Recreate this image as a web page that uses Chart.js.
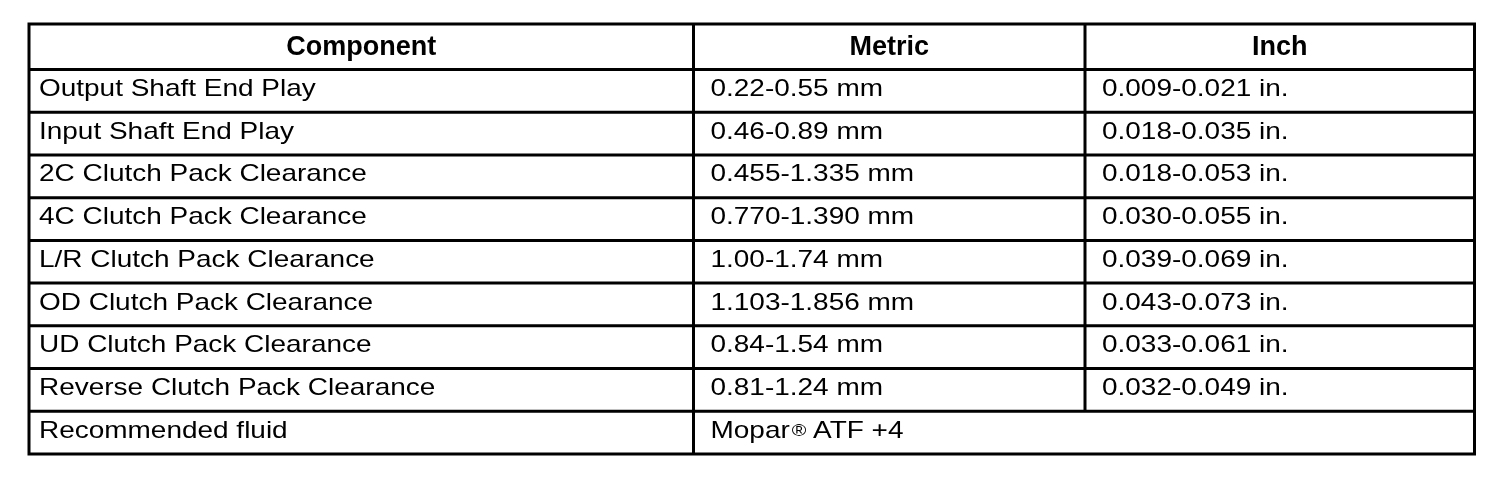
<!DOCTYPE html>
<html>
<head>
<meta charset="utf-8">
<script src="https://cdn.jsdelivr.net/npm/chart.js@4.4.0/dist/chart.umd.min.js"></script>
<style>
  html, body { margin: 0; padding: 0; background: #fff; }
  #wrap { width: 1504px; height: 480px; position: relative; }
</style>
</head>
<body>
<div id="wrap"><canvas id="specTable"></canvas></div>
<script>
var headers = ["Component", "Metric", "Inch"];
var components = [
  "Output Shaft End Play",
  "Input Shaft End Play",
  "2C Clutch Pack Clearance",
  "4C Clutch Pack Clearance",
  "L/R Clutch Pack Clearance",
  "OD Clutch Pack Clearance",
  "UD Clutch Pack Clearance",
  "Reverse Clutch Pack Clearance",
  "Recommended fluid"
];
var metricValues = [
  "0.22-0.55 mm",
  "0.46-0.89 mm",
  "0.455-1.335 mm",
  "0.770-1.390 mm",
  "1.00-1.74 mm",
  "1.103-1.856 mm",
  "0.84-1.54 mm",
  "0.81-1.24 mm",
  "Mopar® ATF +4"
];
// null = the metric cell spans the inch column too
var inchValues = [
  "0.009-0.021 in.",
  "0.018-0.035 in.",
  "0.018-0.053 in.",
  "0.030-0.055 in.",
  "0.039-0.069 in.",
  "0.043-0.073 in.",
  "0.033-0.061 in.",
  "0.032-0.049 in.",
  null
];

// layout
var colEdges = [0, 664.5, 1056, 1445.5];
var headerRows = 1.065;
var rowCount = components.length;
var fontFamily = '"Liberation Sans", Arial, Helvetica, sans-serif';
var stretch = 1.165;
var padLeft = [10, 17, 17];

function rowStart(i) { return i < 0 ? 0 : headerRows + i; }

function drawStretched(ctx, text, px, py, font) {
  ctx.save();
  ctx.font = font;
  ctx.translate(px, py);
  ctx.scale(stretch, 1);
  ctx.fillText(text, 0, 0);
  var w = ctx.measureText(text).width * stretch;
  ctx.restore();
  return w;
}

function drawCell(ctx, text, px, py) {
  var body = '24px ' + fontFamily;
  var parts = text.split('®');
  var cx = px;
  for (var i = 0; i < parts.length; i++) {
    if (i > 0) cx += drawStretched(ctx, '®', cx + 2, py - 2, '17px ' + fontFamily) + 1;
    cx += drawStretched(ctx, parts[i], cx, py, body);
  }
}

var tablePlugin = {
  id: 'specTable',
  afterDraw: function (chart) {
    var ctx = chart.ctx, xs = chart.scales.x, ys = chart.scales.y;
    var left = xs.getPixelForValue(colEdges[0]);
    var right = xs.getPixelForValue(colEdges[3]);
    var top = ys.getPixelForValue(0);
    var bottom = ys.getPixelForValue(rowStart(rowCount));

    ctx.save();
    ctx.strokeStyle = '#000';
    ctx.lineWidth = 3;
    ctx.lineCap = 'square';
    ctx.beginPath();
    // row lines
    for (var r = 0; r <= rowCount; r++) {
      var py = ys.getPixelForValue(r === 0 ? 0 : rowStart(r - 1));
      ctx.moveTo(left, py); ctx.lineTo(right, py);
    }
    ctx.moveTo(left, bottom); ctx.lineTo(right, bottom);
    // outer and first column line
    ctx.moveTo(left, top); ctx.lineTo(left, bottom);
    ctx.moveTo(right, top); ctx.lineTo(right, bottom);
    var c1 = xs.getPixelForValue(colEdges[1]);
    ctx.moveTo(c1, top); ctx.lineTo(c1, bottom);
    // second column line, skipped where the cell is merged
    var c2 = xs.getPixelForValue(colEdges[2]);
    ctx.moveTo(c2, top); ctx.lineTo(c2, ys.getPixelForValue(rowStart(0)));
    for (var i = 0; i < rowCount; i++) {
      if (inchValues[i] === null) continue;
      ctx.moveTo(c2, ys.getPixelForValue(rowStart(i)));
      ctx.lineTo(c2, ys.getPixelForValue(rowStart(i + 1)));
    }
    ctx.stroke();

    // header
    ctx.fillStyle = '#000';
    ctx.textBaseline = 'alphabetic';
    ctx.textAlign = 'center';
    ctx.font = 'bold 27px ' + fontFamily;
    var hy = (ys.getPixelForValue(0) + ys.getPixelForValue(headerRows)) / 2 + 8;
    for (var h = 0; h < headers.length; h++) {
      var hx = (xs.getPixelForValue(colEdges[h]) + xs.getPixelForValue(colEdges[h + 1])) / 2;
      ctx.fillText(headers[h], hx, hy);
    }

    // body
    ctx.textAlign = 'left';
    for (var k = 0; k < rowCount; k++) {
      var by = ys.getPixelForValue(rowStart(k)) + 26.5;
      var cols = [components[k], metricValues[k], inchValues[k]];
      for (var c = 0; c < 3; c++) {
        if (cols[c] === null) continue;
        drawCell(ctx, cols[c], xs.getPixelForValue(colEdges[c]) + padLeft[c], by);
      }
    }
    ctx.restore();
  }
};

new Chart(document.getElementById('specTable'), {
  type: 'scatter',
  data: { datasets: [] },
  options: {
    responsive: true,
    maintainAspectRatio: false,
    animation: false,
    events: [],
    layout: { padding: { left: 29, right: 29.5, top: 24, bottom: 26 } },
    plugins: { legend: { display: false }, tooltip: { enabled: false } },
    scales: {
      x: { type: 'linear', display: false, min: colEdges[0], max: colEdges[3] },
      y: { type: 'linear', display: false, reverse: true, min: 0, max: rowStart(rowCount) }
    }
  },
  plugins: [tablePlugin]
});
</script>
</body>
</html>
